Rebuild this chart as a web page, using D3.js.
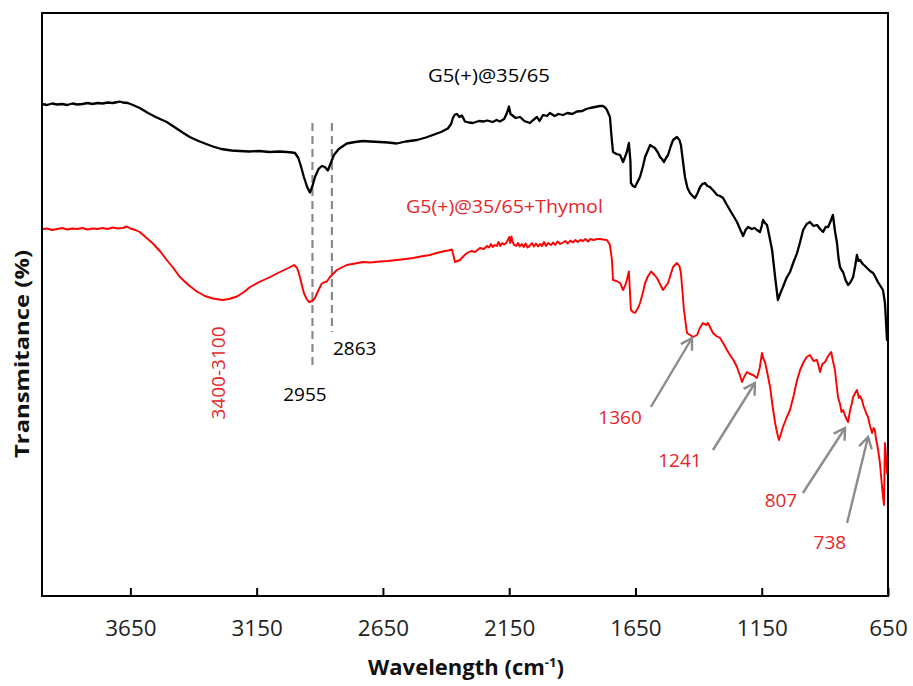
<!DOCTYPE html>
<html>
<head>
<meta charset="utf-8">
<script src="https://cdn.jsdelivr.net/npm/d3@7"></script>
<style>
  html, body { margin: 0; padding: 0; background: #fff; }
  svg { display: block; font-family: "Open Sans", "Noto Sans", sans-serif; }
</style>
</head>
<body>
<svg id="chart" width="913" height="686"></svg>
<script>
// ---------- data ----------
const xTicks = [3650, 3150, 2650, 2150, 1650, 1150, 650];

const seriesNames = ["G5(+)@35/65", "G5(+)@35/65+Thymol"];

// [wavenumber (cm-1), transmittance (arbitrary %)]
const blackSeries = [[4000,49.2],[3980,49.1],[3960,49.25],[3940,49.15],[3920,49.2],[3900,49.1],[3880,49.25],[3860,49.15],[3840,49.2],[3820,49.3],[3800,49.2],[3780,49.3],[3760,49.25],[3740,49.35],[3720,49.3],[3700,49.4],[3692,49.45],[3680,49.35],[3660,49.3],[3640,49.1],[3613,48.8],[3580,48.3],[3550,47.9],[3506,47.4],[3470,46.8],[3440,46.3],[3415,45.9],[3380,45.5],[3350,45.2],[3323,44.95],[3290,44.7],[3250,44.55],[3217,44.5],[3180,44.45],[3140,44.5],[3100,44.4],[3060,44.45],[3029,44.4],[3010,44.35],[2998,44.3],[2985,43.8],[2975,43.0],[2963,41.9],[2950,40.9],[2939,40.35],[2929,41.0],[2919,41.9],[2905,42.7],[2892,43.0],[2880,42.9],[2868,42.55],[2858,43.2],[2844,44.1],[2825,44.7],[2793,45.25],[2760,45.4],[2729,45.5],[2700,45.45],[2662,45.4],[2630,45.35],[2595,45.25],[2560,45.45],[2515,45.6],[2480,45.85],[2452,46.1],[2420,46.4],[2393,46.75],[2380,47.2],[2373,47.8],[2365,48.15],[2357,48.2],[2347,47.9],[2337,48.05],[2325,47.45],[2310,47.35],[2294,47.3],[2270,47.5],[2250,47.45],[2238,47.55],[2215,47.4],[2200,47.6],[2187,47.45],[2170,47.7],[2159,48.3],[2151,48.95],[2145,48.2],[2139,48.1],[2125,47.8],[2107,47.9],[2090,47.5],[2068,47.3],[2055,47.6],[2040,47.9],[2030,47.5],[2016,48.1],[2000,48.0],[1989,48.3],[1970,48.0],[1955,48.2],[1937,48.1],[1920,48.3],[1900,48.2],[1882,48.45],[1860,48.5],[1845,48.7],[1830,48.8],[1810,48.9],[1791,49.0],[1779,49.0],[1770,48.85],[1763,48.6],[1751,47.9],[1745,46.0],[1739,44.4],[1725,44.2],[1711,44.1],[1699,43.4],[1690,44.0],[1684,44.4],[1676,45.3],[1670,43.5],[1668,41.3],[1660,41.0],[1652,40.9],[1640,41.5],[1632,41.9],[1620,43.0],[1612,43.9],[1600,44.6],[1592,45.1],[1580,44.9],[1573,44.8],[1560,44.3],[1553,43.9],[1545,43.7],[1537,43.4],[1529,43.8],[1521,44.1],[1510,45.0],[1501,45.6],[1486,45.9],[1476,45.6],[1470,45.1],[1462,43.5],[1454,41.9],[1444,40.8],[1434,40.3],[1424,40.0],[1414,39.8],[1404,40.3],[1394,40.9],[1385,41.2],[1375,41.3],[1365,41.0],[1355,40.9],[1340,40.5],[1327,40.1],[1315,40.0],[1303,39.8],[1290,39.2],[1276,38.6],[1262,38.0],[1248,37.4],[1236,36.7],[1224,36.0],[1214,36.6],[1204,36.9],[1190,36.7],[1178,36.8],[1169,36.6],[1157,36.4],[1150,37.0],[1145,37.6],[1137,37.3],[1129,37.1],[1120,36.0],[1109,34.6],[1097,31.9],[1086,29.6],[1076,30.3],[1066,30.9],[1052,31.8],[1038,32.4],[1024,33.4],[1010,34.3],[998,35.4],[986,36.6],[972,37.2],[959,37.4],[945,37.0],[931,37.1],[919,36.7],[907,36.4],[897,36.9],[887,36.9],[877,37.5],[868,38.1],[860,36.5],[852,35.3],[846,33.8],[840,32.9],[834,32.6],[828,32.4],[818,31.6],[808,31.1],[798,31.4],[788,31.9],[780,33.0],[773,34.1],[767,33.5],[761,33.6],[750,33.2],[741,33.0],[733,32.8],[721,32.5],[709,32.3],[700,31.9],[690,31.4],[680,31.0],[670,30.6],[662,29.3],[658,27.5],[654,25.6],[650,26.0]];

const redSeries = [[4000,36.67],[3980,36.75],[3960,36.6],[3940,36.7],[3920,36.8],[3900,36.65],[3880,36.75],[3860,36.7],[3840,36.8],[3820,36.65],[3800,36.75],[3780,36.7],[3760,36.8],[3740,36.7],[3720,36.85],[3700,36.75],[3680,36.8],[3664,36.95],[3650,36.75],[3630,36.6],[3613,36.4],[3590,35.9],[3561,35.25],[3530,34.4],[3506,33.6],[3480,32.8],[3454,31.9],[3420,31.1],[3387,30.45],[3355,30.0],[3323,29.75],[3300,29.65],[3284,29.6],[3260,29.7],[3228,29.95],[3200,30.4],[3176,30.9],[3140,31.4],[3096,31.9],[3070,32.25],[3041,32.6],[3020,32.85],[3002,33.1],[2990,32.8],[2983,32.3],[2973,31.3],[2963,30.3],[2952,29.7],[2943,29.4],[2930,29.5],[2919,29.8],[2905,30.6],[2892,31.25],[2880,31.4],[2872,31.45],[2860,31.9],[2844,32.3],[2832,32.6],[2810,32.9],[2793,33.1],[2760,33.25],[2729,33.4],[2700,33.35],[2662,33.45],[2630,33.5],[2595,33.6],[2560,33.7],[2531,33.8],[2500,33.95],[2464,34.1],[2430,34.35],[2404,34.5],[2390,34.55],[2377,34.65],[2370,34.0],[2365,33.4],[2355,33.5],[2345,33.6],[2330,34.0],[2317,34.3],[2300,34.5],[2285,34.4],[2266,34.8],[2250,34.7],[2238,35.0],[2230,34.85],[2222,35.2],[2215,34.9],[2207,35.1],[2199,35.0],[2192,35.4],[2185,35.0],[2177,35.3],[2170,35.15],[2162,35.3],[2155,35.6],[2150,35.9],[2146,35.3],[2141,35.95],[2136,35.4],[2130,35.1],[2122,35.0],[2115,35.3],[2108,34.95],[2100,35.2],[2092,34.9],[2085,35.25],[2077,34.85],[2068,35.05],[2060,35.3],[2052,34.95],[2044,35.25],[2036,34.95],[2028,35.2],[2020,35.0],[2012,35.4],[2004,35.0],[1996,35.3],[1985,35.1],[1976,35.35],[1968,35.1],[1958,35.45],[1948,35.2],[1937,35.35],[1928,35.5],[1918,35.25],[1908,35.55],[1898,35.35],[1888,35.6],[1878,35.4],[1868,35.6],[1858,35.5],[1848,35.7],[1838,35.45],[1828,35.7],[1815,35.6],[1802,35.7],[1790,35.7],[1779,35.65],[1763,35.6],[1751,35.1],[1743,33.6],[1739,31.6],[1725,31.5],[1711,31.3],[1699,30.6],[1690,31.1],[1684,31.6],[1676,32.45],[1672,30.5],[1668,28.6],[1660,28.4],[1652,28.3],[1640,28.8],[1632,29.3],[1620,30.4],[1612,31.3],[1600,32.0],[1588,32.45],[1575,32.1],[1565,31.8],[1553,31.2],[1541,30.6],[1530,31.0],[1521,31.3],[1510,32.2],[1501,32.9],[1486,33.3],[1476,33.0],[1470,32.3],[1464,30.5],[1458,28.6],[1446,26.3],[1434,26.1],[1422,25.9],[1406,26.1],[1395,26.8],[1383,27.3],[1370,27.1],[1363,27.3],[1353,26.8],[1343,26.3],[1330,26.0],[1315,25.8],[1303,25.3],[1290,24.7],[1276,24.1],[1262,23.6],[1248,22.9],[1238,22.2],[1228,21.4],[1218,22.0],[1208,22.4],[1196,22.2],[1184,22.1],[1169,21.8],[1158,22.8],[1149,24.3],[1143,23.7],[1137,23.4],[1127,22.2],[1117,20.9],[1107,19.0],[1097,17.3],[1089,16.3],[1082,15.6],[1074,16.2],[1066,16.9],[1052,17.8],[1038,18.6],[1024,20.0],[1010,21.6],[998,22.6],[986,23.3],[972,23.9],[959,24.1],[945,23.5],[931,23.6],[925,23.0],[919,22.4],[910,23.2],[899,23.4],[887,24.0],[875,24.4],[868,23.5],[860,22.6],[854,21.2],[848,19.9],[840,19.2],[834,18.4],[828,18.6],[818,17.9],[808,17.4],[800,18.6],[794,19.2],[788,19.9],[780,20.3],[773,20.6],[765,19.8],[761,20.0],[753,19.6],[747,19.0],[741,18.6],[735,18.2],[729,17.9],[721,17.0],[713,16.3],[707,16.8],[702,16.6],[698,15.8],[694,15.3],[688,14.4],[682,13.3],[676,11.6],[670,10.0],[666,9.1],[662,15.3],[658,14.0],[654,12.3],[650,12.6]];

// annotations in data units
const seriesLabels = [
  { text: "G5(+)@35/65", w: 2230, t: 51.4, s: 0 },
  { text: "G5(+)@35/65+Thymol", w: 2169, t: 38.3, s: 1 }
];
const dashedMarkers = [
  { w: 2929, t0: 47.3, t1: 22.8 },
  { w: 2852, t0: 47.3, t1: 26.4 }
];
const peakLabels = [
  { text: "2955", w: 2959, t: 19.5, s: 0, anchor: "middle" },
  { text: "2863", w: 2848, t: 24.1, s: 0, anchor: "start" },
  { text: "1360", w: 1711, t: 17.2, s: 1, anchor: "middle" },
  { text: "1241", w: 1474, t: 12.9, s: 1, anchor: "middle" },
  { text: "807",  w: 1074, t: 8.9,  s: 1, anchor: "middle" },
  { text: "738",  w: 880,  t: 4.7,  s: 1, anchor: "middle" }
];
const bandLabel = { text: "3400-3100", w: 3300, t: 22.3 };
const arrows = [
  { w0: 1589, t0: 18.9, w1: 1426, t1: 25.8 },
  { w0: 1343, t0: 14.6, w1: 1177, t1: 21.3 },
  { w0: 987,  t0: 10.3, w1: 820,  t1: 16.8 },
  { w0: 812,  t0: 7.3,  w1: 729,  t1: 15.9 }
];

// ---------- drawing ----------
(function () {
const colors = ["#000000", "#ff0000"];
const textColors = ["#000000", "#e8262a"];
const svg = d3.select("#chart");
const mL = 42, mR = 888, mT = 13, mB = 596;

const x = d3.scaleLinear().domain([4000, 650]).range([mL, mR]);
const y = d3.scaleLinear().domain([0, 58.3]).range([mB, mT]);

// dashed markers (behind curves)
svg.append("g").selectAll("line").data(dashedMarkers).join("line")
  .attr("x1", d => x(d.w)).attr("x2", d => x(d.w))
  .attr("y1", d => y(d.t0)).attr("y2", d => y(d.t1))
  .attr("stroke", "#8a8a8a").attr("stroke-width", 2.2)
  .attr("stroke-dasharray", "8,5");

// curves
const line = d3.line().x(d => x(d[0])).y(d => y(d[1]));
[blackSeries, redSeries].forEach((s, i) => {
  svg.append("path").datum(s)
    .attr("d", line)
    .attr("fill", "none")
    .attr("stroke", colors[i])
    .attr("stroke-width", i === 0 ? 2.3 : 1.9)
    .attr("stroke-linejoin", "round");
});

// frame
svg.append("rect").attr("x", mL).attr("y", mT)
  .attr("width", mR - mL).attr("height", mB - mT)
  .attr("fill", "none").attr("stroke", "#000").attr("stroke-width", 2);

// x axis
const ax = svg.append("g").attr("transform", `translate(0,${mB})`)
  .call(d3.axisBottom(x).tickValues(xTicks).tickSize(-8).tickPadding(25).tickFormat(d3.format("d")));
ax.select(".domain").remove();
ax.selectAll(".tick line").attr("stroke", "#000").attr("stroke-width", 2);
ax.selectAll(".tick text").attr("font-size", 21).attr("fill", "#222")
  .attr("font-family", "Open Sans")
  .attr("textLength", d => String(d).length * 12.8).attr("lengthAdjust", "spacingAndGlyphs");

// axis titles
const xt = svg.append("text").attr("x", 466).attr("y", 675)
  .attr("text-anchor", "middle").attr("font-weight", "bold").attr("font-size", 22)
  .attr("fill", "#111");
xt.append("tspan").text("Wavelength (cm");
xt.append("tspan").text("-1").attr("font-size", 13).attr("dy", -8);
xt.append("tspan").text(")").attr("dy", 8);

svg.append("text")
  .attr("transform", "translate(29,354) rotate(-90)")
  .attr("text-anchor", "middle").attr("font-weight", "bold").attr("font-size", 20)
  .attr("fill", "#111")
  .attr("textLength", 208).attr("lengthAdjust", "spacingAndGlyphs")
  .text("Transmitance (%)");

// series labels
svg.append("g").selectAll("text").data(seriesLabels).join("text")
  .attr("x", d => x(d.w)).attr("y", d => y(d.t))
  .attr("text-anchor", "middle").attr("font-size", 19)
  .attr("fill", d => textColors[d.s])
  .attr("textLength", d => d.s === 0 ? 122 : 197).attr("lengthAdjust", "spacingAndGlyphs")
  .text(d => d.text);

// peak labels
svg.append("g").selectAll("text").data(peakLabels).join("text")
  .attr("x", d => x(d.w)).attr("y", d => y(d.t))
  .attr("text-anchor", d => d.anchor).attr("font-size", 19)
  .attr("fill", d => textColors[d.s])
  .text(d => d.text);

svg.append("text")
  .attr("transform", `translate(${x(bandLabel.w) + 6},${y(bandLabel.t)}) rotate(-90)`)
  .attr("text-anchor", "middle").attr("font-size", 19)
  .attr("fill", textColors[1])
  .attr("textLength", 93).attr("lengthAdjust", "spacingAndGlyphs")
  .text(bandLabel.text);

// arrows
const defs = svg.append("defs");
defs.append("marker").attr("id", "head")
  .attr("viewBox", "-12 -8 14 16").attr("refX", 0).attr("refY", 0)
  .attr("markerWidth", 14).attr("markerHeight", 16)
  .attr("markerUnits", "userSpaceOnUse").attr("orient", "auto")
  .append("path").attr("d", "M-11,-6.5 L0,0 L-11,6.5")
  .attr("fill", "none").attr("stroke", "#8c8c8c").attr("stroke-width", 2.4);

svg.append("g").selectAll("line").data(arrows).join("line")
  .attr("x1", d => x(d.w0)).attr("y1", d => y(d.t0))
  .attr("x2", d => x(d.w1)).attr("y2", d => y(d.t1))
  .attr("stroke", "#8c8c8c").attr("stroke-width", 2.4)
  .attr("marker-end", "url(#head)");
})();
</script>
</body>
</html>
